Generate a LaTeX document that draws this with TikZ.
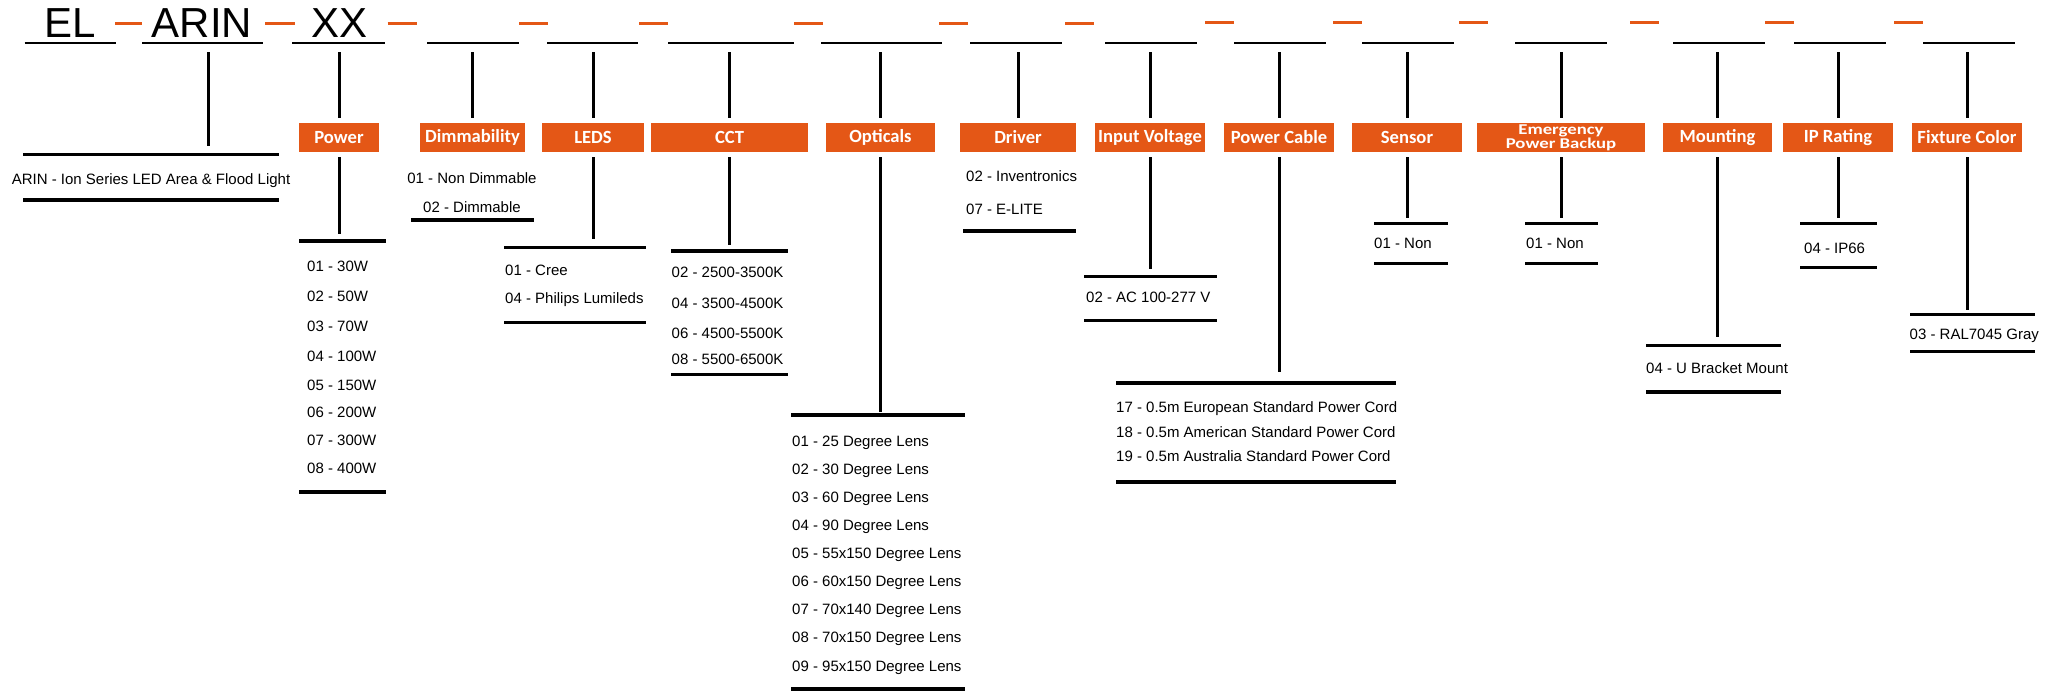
\documentclass[tikz,border=0pt]{standalone}
\usepackage{fontspec}
\setmainfont{Liberation Sans}
\newfontfamily\hdrfont{Carlito}
\newfontfamily\hdrwide{Carlito}[FakeStretch=1.25]
\usepackage{xcolor}
\usepackage{tikz}
\definecolor{elorange}{RGB}{228,87,22}

\begin{document}
\begin{tikzpicture}[
    x=1pt, y=-1pt,
    code/.style={anchor=base, inner sep=0pt, font=\fontsize{42pt}{50pt}\selectfont},
    hdr/.style={fill=elorange, text=white, align=center, inner sep=0pt, minimum height=29pt, outer xsep=0pt, outer ysep=5pt, font=\hdrfont\bfseries\fontsize{18.6pt}{20pt}\selectfont},
    item/.style={anchor=base west, inner sep=0pt, font=\fontsize{15pt}{18pt}\selectfont},
    slot/.style={line width=2.5pt},
    rule/.style={line width=3.5pt},
    link/.style={line width=3pt},
    hyphen/.style={draw=elorange, line width=3.5pt}
]
\fill[white] (0,0) rectangle (2062,691);
\useasboundingbox (0,0) rectangle (2062,691);

% part number
\node[code] (el) at (70,37) {EL};
\node[code] (arin) at (202,37) {ARIN};
\node[code] (xx) at (339.5,37) {XX};
\draw[slot] (24.5,43) -- (116,43) (142,43) -- (262.5,43) (292,43) -- (385,43)
    (427,43) -- (519,43) (547,43) -- (638,43) (668,43) -- (794,43)
    (821,43) -- (942,43) (970,43) -- (1062,43) (1105,43) -- (1197,43)
    (1234,43) -- (1326,43) (1362,43) -- (1454,43) (1515,43) -- (1607,43)
    (1673,43) -- (1765,43) (1794,43) -- (1886,43) (1923,43) -- (2015,43);
\draw[hyphen] (115,23.5) -- (142,23.5) (265,23.5) -- (295,23.5) (387.5,23.5) -- (416.5,23.5)
    (519,23.5) -- (548,23.5) (639,23.5) -- (668,23.5) (794,23.5) -- (823,23.5)
    (939,23.5) -- (968,23.5) (1065,23.5) -- (1094,23.5);
\draw[hyphen] (1205,22.7) -- (1234,22.7) (1333,22.7) -- (1362,22.7) (1459,22.7) -- (1488,22.7)
    (1630,22.7) -- (1659,22.7) (1765,22.7) -- (1794,22.7) (1894,22.7) -- (1923,22.7);

% headers
\node[hdr, minimum width=80pt] (pow) at (339,137.5) {Power};
\node[hdr, minimum width=105pt] (dim) at (472.5,137.5) {Dimmability};
\node[hdr, minimum width=102pt] (led) at (593,137.5) {LEDS};
\node[hdr, minimum width=157pt] (cct) at (729.5,137.5) {CCT};
\node[hdr, minimum width=109pt] (opt) at (880.5,137.5) {Opticals};
\node[hdr, minimum width=116pt] (drv) at (1018,137.5) {Driver};
\node[hdr, minimum width=110pt] (vin) at (1150,137.5) {Input Voltage};
\node[hdr, minimum width=110pt] (cab) at (1279,137.5) {Power Cable};
\node[hdr, minimum width=110pt] (sen) at (1407,137.5) {Sensor};
\node[hdr, minimum width=168pt, font=\hdrwide\bfseries\fontsize{15pt}{12.6pt}\selectfont] (emg) at (1561,137.5) {Emergency\\Power Backup};
\node[hdr, minimum width=109pt] (mnt) at (1717.5,137.5) {Mounting};
\node[hdr, minimum width=110pt] (ipr) at (1838,137.5) {IP Rating};
\node[hdr, minimum width=110pt] (fix) at (1967,137.5) {Fixture Color};

% series
\node[item, anchor=base] (desc) at (151,184.4) {ARIN - Ion Series LED Area \& Flood Light};
\draw[rule] (23,154.3) -- (279,154.3) (23,200) -- (279,200);

% dimmability
\node[item, anchor=base] (d1) at (472,183.4) {01 - Non Dimmable};
\node[item, anchor=base] (d2) at (472,212.4) {02 - Dimmable};
\draw[rule] (411,220) -- (534,220);

% power
\node[item] (p1) at (307,271.1) {01 - 30W};
\node[item] (p2) at (307,301.1) {02 - 50W};
\node[item] (p3) at (307,331.1) {03 - 70W};
\node[item] (p4) at (307,361.4) {04 - 100W};
\node[item] (p5) at (307,390.7) {05 - 150W};
\node[item] (p6) at (307,417.1) {06 - 200W};
\node[item] (p7) at (307,445.4) {07 - 300W};
\node[item] (p8) at (307,473.7) {08 - 400W};
\draw[rule] (299,241) -- (386,241) (299,492) -- (386,492);

% leds
\node[item] (l1) at (505,275.4) {01 - Cree};
\node[item] (l2) at (505,303.1) {04 - Philips Lumileds};
\draw[rule] (504,247.3) -- (645.5,247.3) (504,322.3) -- (645.5,322.3);

% cct
\node[item] (c1) at (671.5,277.7) {02 - 2500-3500K};
\node[item] (c2) at (671.5,308.1) {04 - 3500-4500K};
\node[item] (c3) at (671.5,338.7) {06 - 4500-5500K};
\node[item] (c4) at (671.5,364.4) {08 - 5500-6500K};
\draw[rule] (671,251) -- (788,251) (671,374.3) -- (788,374.3);

% opticals
\node[item] (o1) at (792,446.1) {01 - 25 Degree Lens};
\node[item] (o2) at (792,474.1) {02 - 30 Degree Lens};
\node[item] (o3) at (792,502.1) {03 - 60 Degree Lens};
\node[item] (o4) at (792,530.1) {04 - 90 Degree Lens};
\node[item] (o5) at (792,558.1) {05 - 55x150 Degree Lens};
\node[item] (o6) at (792,586.1) {06 - 60x150 Degree Lens};
\node[item] (o7) at (792,614.7) {07 - 70x140 Degree Lens};
\node[item] (o8) at (792,642.7) {08 - 70x150 Degree Lens};
\node[item] (o9) at (792,671.1) {09 - 95x150 Degree Lens};
\draw[rule] (791,415) -- (965,415) (791,689) -- (965,689);

% driver
\node[item] (r1) at (966,181.1) {02 - Inventronics};
\node[item] (r2) at (966,214.4) {07 - E-LITE};
\draw[rule] (963,231) -- (1076,231);

% input voltage
\node[item] (v1) at (1086,302.7) {02 - AC 100-277 V};
\draw[rule] (1084,276.3) -- (1216.5,276.3) (1084,320.3) -- (1216.5,320.3);

% power cable
\node[item] (k1) at (1116,412.4) {17 - 0.5m European Standard Power Cord};
\node[item] (k2) at (1116,437.1) {18 - 0.5m American Standard Power Cord};
\node[item] (k3) at (1116,461.4) {19 - 0.5m Australia Standard Power Cord};
\draw[rule] (1116,383) -- (1396,383) (1116,482) -- (1396,482);

% sensor, emergency
\node[item] (s1) at (1374,248.1) {01 - Non};
\draw[rule] (1374,223.3) -- (1448,223.3) (1374,263.3) -- (1448,263.3);
\node[item] (e1) at (1526,248.1) {01 - Non};
\draw[rule] (1525,223.3) -- (1598,223.3) (1525,263.3) -- (1598,263.3);

% mounting
\node[item] (m1) at (1646,373.1) {04 - U Bracket Mount};
\draw[rule] (1646,345.3) -- (1781,345.3) (1646,392) -- (1781,392);

% ip rating
\node[item] (i1) at (1804,253.7) {04 - IP66};
\draw[rule] (1800,223.3) -- (1877,223.3) (1800,267.3) -- (1877,267.3);

% fixture color
\node[item] (f1) at (1909.5,339.4) {03 - RAL7045 Gray};
\draw[rule] (1910,314.3) -- (2035,314.3) (1910,351.3) -- (2035,351.3);

% link ends
\coordinate (t-arin) at (208,52);
\coordinate (b-arin) at (208,146);
\coordinate (t-pow) at (339,52);
\coordinate (b-pow) at (339,234);
\coordinate (t-dim) at (472.5,52);
\coordinate (t-led) at (593,52);
\coordinate (b-led) at (593,239);
\coordinate (t-cct) at (729.5,52);
\coordinate (b-cct) at (729.5,245);
\coordinate (t-opt) at (880.5,52);
\coordinate (b-opt) at (880.5,411.7);
\coordinate (t-drv) at (1018,52);
\coordinate (t-vin) at (1150,52);
\coordinate (b-vin) at (1150,269.3);
\coordinate (t-cab) at (1279,52);
\coordinate (b-cab) at (1279,372.3);
\coordinate (t-sen) at (1407,52);
\coordinate (b-sen) at (1407,217.7);
\coordinate (t-emg) at (1561,52);
\coordinate (b-emg) at (1561,217.7);
\coordinate (t-mnt) at (1717.5,52);
\coordinate (b-mnt) at (1717.5,336.7);
\coordinate (t-ipr) at (1838,52);
\coordinate (b-ipr) at (1838,218.3);
\coordinate (t-fix) at (1967,52);
\coordinate (b-fix) at (1967,310);

\draw[link] (t-arin) -- (b-arin);
\draw[link] (t-pow) -- (pow);
\draw[link] (pow) -- (b-pow);
\draw[link] (t-dim) -- (dim);
\draw[link] (t-led) -- (led);
\draw[link] (led) -- (b-led);
\draw[link] (t-cct) -- (cct);
\draw[link] (cct) -- (b-cct);
\draw[link] (t-opt) -- (opt);
\draw[link] (opt) -- (b-opt);
\draw[link] (t-drv) -- (drv);
\draw[link] (t-vin) -- (vin);
\draw[link] (vin) -- (b-vin);
\draw[link] (t-cab) -- (cab);
\draw[link] (cab) -- (b-cab);
\draw[link] (t-sen) -- (sen);
\draw[link] (sen) -- (b-sen);
\draw[link] (t-emg) -- (emg);
\draw[link] (emg) -- (b-emg);
\draw[link] (t-mnt) -- (mnt);
\draw[link] (mnt) -- (b-mnt);
\draw[link] (t-ipr) -- (ipr);
\draw[link] (ipr) -- (b-ipr);
\draw[link] (t-fix) -- (fix);
\draw[link] (fix) -- (b-fix);
\end{tikzpicture}
\end{document}
